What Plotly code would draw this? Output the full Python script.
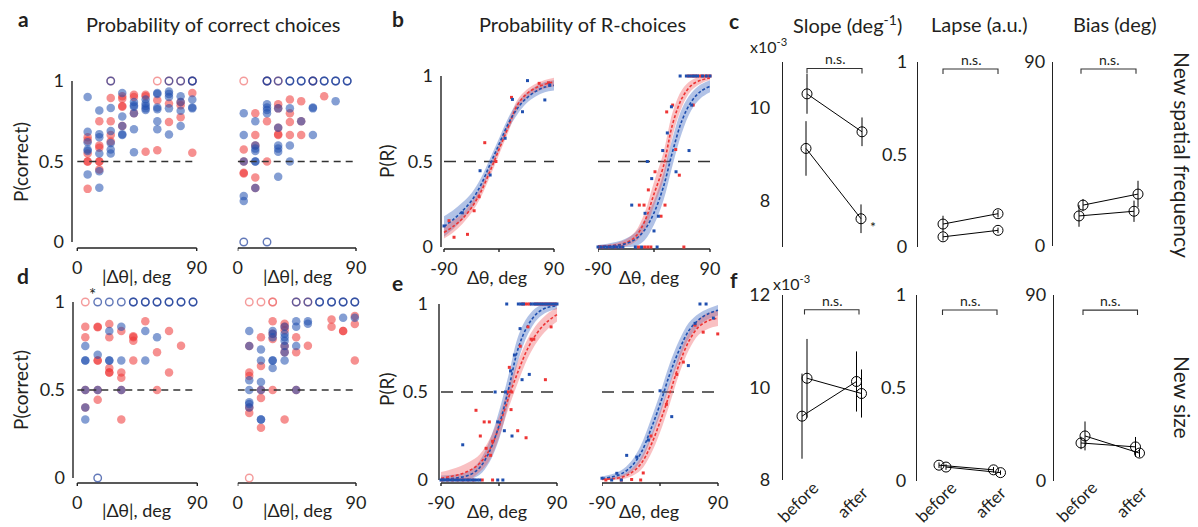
import plotly.graph_objects as go

W, H = 1198, 527
FONT = "Lato"
TXT = "#231f20"
AX = "#222222"
RED = "#EE3535"
BLUE = "#1F4FAF"
RED_OPEN = "#F07070"
BLUE_OPEN = "#1F3F9A"

# ---------------- panel a / d : P(correct) per |dtheta| bin ----------------
a_left_x = [7.8, 16.6, 25.2, 33.9, 42.7, 51.5, 60.3, 69.1, 77.9, 86.7]
a_left_red = [
    [0.65, 0.63, 0.55, 0.5, 0.5, 0.33],
    [0.75, 0.6, 0.585, 0.5, 0.5, 0.45],
    [1.0, 0.895, 0.75, 0.665, 0.625],
    [0.905, 0.89, 0.845, 0.84, 0.72],
    [0.915, 0.9, 0.8],
    [0.915, 0.905, 0.56],
    [1.0, 0.88, 0.57],
    [1.0, 0.86, 0.745],
    [1.0, 0.87, 0.85, 0.775],
    [1.0, 0.925, 0.555],
]
a_left_blue = [
    [0.9, 0.685, 0.62, 0.575, 0.565, 0.42],
    [0.817, 0.67, 0.65, 0.55, 0.44, 0.337],
    [1.0, 0.833, 0.69, 0.615, 0.575, 0.55],
    [0.925, 0.78, 0.72, 0.67, 0.665],
    [0.87, 0.85, 0.84, 0.8, 0.70, 0.557],
    [0.885, 0.86, 0.845, 0.83, 0.82],
    [0.925, 0.92, 0.835, 0.825, 0.75, 0.70],
    [1.0, 0.935, 0.92, 0.9, 0.83, 0.668],
    [1.0, 0.905, 0.87, 0.815, 0.72],
    [1.0, 1.0, 0.885, 0.835, 0.83],
]
a_right_x = [4.6, 13.4, 22.3, 30.8, 39.7, 48.3, 57.2, 65.8, 74.5, 83.3]
a_right_red = [
    [1.0, 0.575, 0.5, 0.43, 0.425],
    [0.8, 0.665, 0.6, 0.4, 0.335],
    [1.0, 0.75, 0.5],
    [1.0, 0.855, 0.83, 0.71, 0.67, 0.665],
    [0.885, 0.8, 0.745, 0.665],
    [0.875, 0.75, 0.665],
    [1.0],
    [0.905],
    [],
    [],
]
a_right_blue = [
    [0.8, 0.665, 0.5, 0.285, 0.255, 0.0],
    [0.75, 0.6, 0.58, 0.565, 0.5, 0.5, 0.335],
    [1.0, 1.0, 0.855, 0.835, 0.82, 0.8, 0.0],
    [1.0, 0.83, 0.71, 0.6, 0.58, 0.56, 0.405],
    [1.0, 1.0, 0.83, 0.6, 0.5],
    [1.0, 1.0, 0.75],
    [1.0, 1.0, 0.835, 0.83, 0.665],
    [1.0, 1.0],
    [1.0, 1.0, 0.875],
    [1.0, 1.0],
]
d_left_x = [6.0, 15.3, 24.0, 33.0, 42.0, 51.0, 59.8, 68.8, 77.8, 86.8]
d_left_red = [
    [1.0, 0.86, 0.80, 0.5, 0.4],
    [0.86, 0.857, 0.667, 0.667, 0.5, 0.444],
    [0.875, 0.8, 0.625, 0.6, 0.6],
    [0.835, 0.6, 0.57, 0.5, 0.333],
    [0.805, 0.8, 0.78, 0.667],
    [0.89],
    [0.715, 0.5],
    [0.835, 0.6],
    [0.752],
    [],
]
d_left_blue = [
    [0.75, 0.667, 0.667, 0.5, 0.4, 0.333],
    [1.0, 0.70, 0.5, 0.0],
    [1.0, 0.835, 0.667, 0.667],
    [1.0, 0.86, 0.667, 0.5],
    [1.0, 1.0],
    [1.0, 1.0, 0.835, 0.667],
    [1.0, 1.0, 0.8],
    [1.0, 1.0],
    [1.0, 1.0],
    [1.0, 1.0],
]
d_right_x = [8.8, 17.7, 26.6, 35.7, 44.5, 53.4, 62.3, 71.4, 80.2, 89.1]
d_right_red = [
    [1.0, 0.75, 0.6, 0.58, 0.4, 0.37, 0.0],
    [1.0, 0.8, 0.636, 0.5, 0.455, 0.286],
    [1.0, 1.0, 0.89, 0.82, 0.79, 0.5],
    [0.877, 0.86, 0.84, 0.75, 0.715, 0.333],
    [1.0, 0.8, 0.715, 0.5],
    [1.0, 0.752],
    [],
    [0.9, 0.86],
    [0.835, 0.835],
    [0.92, 0.875, 0.667],
]
d_right_blue = [
    [0.835, 0.75, 0.555, 0.5, 0.43, 0.42, 0.4],
    [0.73, 0.667, 0.545, 0.5, 0.333, 0.333],
    [0.835, 0.82, 0.8, 0.667, 0.667, 0.625],
    [0.86, 0.82, 0.80, 0.78, 0.75, 0.715, 0.667],
    [1.0, 0.89, 0.86, 0.75, 0.5],
    [1.0, 0.89, 0.877],
    [1.0, 1.0],
    [1.0, 1.0],
    [1.0, 1.0, 0.91],
    [1.0, 1.0, 0.91],
]

# ---------------- panel b / e : psychometric fits ----------------
psy_x = [-90, -75, -60, -45, -30, -15, 0, 15, 30, 45, 60, 75, 90]
b_left_blue = [0.12, 0.16, 0.21, 0.27, 0.36, 0.48, 0.60, 0.72, 0.81, 0.87, 0.91, 0.935, 0.945]
b_left_red = [0.085, 0.12, 0.165, 0.23, 0.32, 0.44, 0.57, 0.70, 0.83, 0.895, 0.93, 0.952, 0.965]
b_left_blue_hw = [0.06, 0.055, 0.05, 0.045, 0.04, 0.035, 0.035, 0.035, 0.035, 0.03, 0.03, 0.03, 0.03]
b_left_red_hw = [0.035, 0.035, 0.03, 0.03, 0.03, 0.03, 0.03, 0.03, 0.03, 0.025, 0.025, 0.025, 0.025]
b_right_blue = [0.002, 0.004, 0.01, 0.02, 0.045, 0.10, 0.20, 0.35, 0.56, 0.74, 0.85, 0.91, 0.94]
b_right_red = [0.003, 0.006, 0.012, 0.025, 0.06, 0.15, 0.31, 0.47, 0.72, 0.87, 0.945, 0.975, 0.988]
b_right_blue_hw = [0.01, 0.015, 0.02, 0.03, 0.04, 0.06, 0.07, 0.08, 0.08, 0.07, 0.05, 0.04, 0.035]
b_right_red_hw = [0.005, 0.008, 0.012, 0.02, 0.03, 0.05, 0.07, 0.08, 0.07, 0.05, 0.03, 0.02, 0.012]
e_left_blue = [0.005, 0.008, 0.015, 0.03, 0.07, 0.16, 0.31, 0.52, 0.75, 0.88, 0.95, 0.98, 0.99]
e_left_red = [0.01, 0.02, 0.033, 0.055, 0.095, 0.17, 0.30, 0.47, 0.62, 0.75, 0.84, 0.9, 0.94]
e_left_blue_hw = [0.02, 0.02, 0.02, 0.025, 0.04, 0.06, 0.08, 0.08, 0.07, 0.05, 0.035, 0.025, 0.02]
e_left_red_hw = [0.035, 0.04, 0.045, 0.05, 0.05, 0.06, 0.06, 0.06, 0.06, 0.055, 0.05, 0.045, 0.04]
e_right_blue = [0.01, 0.017, 0.035, 0.075, 0.15, 0.28, 0.43, 0.6, 0.74, 0.85, 0.91, 0.945, 0.965]
e_right_red = [0.003, 0.007, 0.015, 0.04, 0.09, 0.19, 0.33, 0.49, 0.66, 0.79, 0.87, 0.905, 0.92]
e_right_blue_hw = [0.01, 0.015, 0.02, 0.03, 0.045, 0.055, 0.06, 0.06, 0.055, 0.045, 0.035, 0.03, 0.03]
e_right_red_hw = [0.005, 0.008, 0.012, 0.02, 0.035, 0.05, 0.06, 0.06, 0.055, 0.05, 0.045, 0.045, 0.045]

# raw choice proportions (small dots)
b_left_dots_blue_x = [-90, -60, -31, -14.5, 10, 22, 38.4, 46.6, 75, 83]
b_left_dots_blue_y = [0.123, 0.2, 0.446, 0.421, 0.636, 0.863, 0.791, 0.973, 0.86, 0.947]
b_left_dots_red_x = [-81.8, -73.6, -51.6, -40.7, -32.5, -23.3, -5, 20.4, 65.7, 81]
b_left_dots_red_y = [0.154, 0.057, 0.074, 0.212, 0.294, 0.61, 0.5, 0.875, 0.957, 0.96]
b_right_dots_blue_x = [-90, -85, -80, -75, -70, -65, -60, -55, -50, -30, -20, 5,
                       42, 52, 57, 62, 66, 70, 78, 84, 90,
                       -35.8, -14.4, -3.7, -10.7, 7, 0, 14, 21.4, 35.4, 56.3, 60.6, 28]
b_right_dots_blue_y = [0, 0, 0, 0, 0, 0, 0, 0, 0, 0, 0, 0,
                       1, 1, 1, 1, 1, 1, 1, 1, 1,
                       0.245, 0.197, 0.40, 0.5, 0.18, 0.094, 0.564, 0.667, 0.44, 0.564, 0.83, 0.82]
b_right_dots_red_x = [-88, -82, -72, -62, -52, -25, -15, -10, -5, 48,
                      55, 60, 64, 68, 73, 77, 82, 86, 90,
                      -23.6, -16, -9.1, 1.6, 11.3, 17.7, 20.4, 30, 34.9, 40.7, 63]
b_right_dots_red_y = [0, 0, 0, 0, 0, 0, 0, 0, 0, 0,
                      1, 1, 1, 1, 1, 1, 1, 1, 1,
                      0.245, 0.245, 0.334, 0.44, 0.18, 0.245, 0.79, 0.83, 0.57, 0.42, 0.83]
e_left_dots_blue_x = [12, 30, 34, 38, 50, 54, 58, 62, 66, 70, 74, 78, 82, 86, 90,
                      -90, -86, -82, -78, -74, -70, -66, -62, -58, -54, -50, -46, -42, -38, -34, -30, -2, 6,
                      -56.3, -2, 8.3, 20.2, 10, 35.8, 47, 23.9, 32.7, 18, -6]
e_left_dots_blue_y = [1] * 15 + [0] * 18 + [0.2, 0.33, 0.28, 0.25, 0.5, 0.57, 0.6, 0.71, 0.86, 0.62, 0.5]
e_left_dots_red_x = [36, 40, 44, 48, 56, 60, 64, 68, 72, 76, 80, 84, 88,
                     -88, -80, -72, -64, -56, -48, -40, -26, -10,
                     -35.7, -15, -29, -20, -10, 29, 42, 14, 20, 18.7, 72, 16, 33, 49.8, 54, 80.8, 45, -23, -13]
e_left_dots_red_y = [1] * 13 + [0] * 9 + [0.396, 0.33, 0.25, 0.18, 0.22, 0.28, 0.24, 0.5, 0.5, 0.4, 0.57,
                                          0.64, 0.76, 0.8, 0.8, 0.87, 0.87, 0.33, 0.14]
e_right_dots_blue_x = [-90, -67, -51.7, -36, -18, 0.06, 18.2, 44, 62, 71.5, 54.4, 82.8, -75, -60]
e_right_dots_blue_y = [0.01, 0.038, 0.14, 0.13, 0.227, 0.507, 0.36, 0.65, 1.0, 1.0, 0.89, 0.92, 0.0, 0.0]
e_right_dots_red_x = [-84, -44, -26, -30, -14, 36.2, 26, 54.4, 67, 89.6, -60, 10]
e_right_dots_red_y = [0.0, 0.003, 0.04, 0.0, 0.25, 0.67, 0.6, 0.88, 0.84, 0.83, 0.0, 0.43]

# ---------------- panel c / f : fitted parameters ----------------
categories = ["before", "after"]
c_slope_A = [10.3, 9.48]
c_slope_A_err = [0.43, 0.31]
c_slope_B = [9.12, 7.6]
c_slope_B_err = [0.59, 0.31]
c_lapse_A = [0.124, 0.18]
c_lapse_A_err = [0.045, 0.02]
c_lapse_B = [0.055, 0.09]
c_lapse_B_err = [0.02, 0.015]
c_bias_A = [20.0, 25.4]
c_bias_A_err = [3.0, 6.5]
c_bias_B = [14.7, 17.0]
c_bias_B_err = [5.3, 5.2]
f_slope_A = [9.38, 10.13]
f_slope_A_err = [0.92, 0.65]
f_slope_B = [10.2, 9.87]
f_slope_B_err = [0.85, 0.52]
f_lapse_A = [0.085, 0.06]
f_lapse_A_err = [0.015, 0.015]
f_lapse_B = [0.075, 0.045]
f_lapse_B_err = [0.015, 0.012]
f_bias_A = [18.4, 16.5]
f_bias_A_err = [3.0, 4.8]
f_bias_B = [21.8, 13.5]
f_bias_B_err = [7.0, 2.0]

# ---------------- figure scaffolding ----------------
fig = go.Figure()
layout = dict(template="none", width=W, height=H,
              margin=dict(l=0, r=0, t=0, b=0, pad=0, autoexpand=False), autosize=False,
              paper_bgcolor="white", plot_bgcolor="rgba(0,0,0,0)", showlegend=False,
              font=dict(family=FONT, size=18, color=TXT))
annotations = []
shapes = []
_axis_count = [0]
TICKFONT = dict(family=FONT, size=18, color=TXT)
TICK_LEN = 3


def px2fx(p):
    return p / W


def px2fy(p):
    return 1 - p / H


def add_axes(xpx, ypx, xrange, yrange, ytickvals=None, yticktext=None, ystand=8,
             yline_px=None, xline_px=None, xtickvals=None, xticktext=None, xminor=(), xstand=3):
    """xpx/ypx: pixel extents of the data range; optional axis-line pixel positions."""
    _axis_count[0] += 1
    n = "" if _axis_count[0] == 1 else str(_axis_count[0])
    xr, yr = list(xrange), list(yrange)
    x_left, x_right, y_bottom = xpx[0], xpx[1], ypx[1]
    ypp = (yrange[1] - yrange[0]) / (ypx[1] - ypx[0])   # data units per pixel (y)
    xpp = (xrange[1] - xrange[0]) / (xpx[1] - xpx[0])   # data units per pixel (x)
    y_line_trace = yline_px is not None and yline_px < xpx[0]
    if xline_px is not None:
        y_bottom = xline_px + TICK_LEN + 1
        yr[0] = yrange[0] - (y_bottom - ypx[1]) * ypp
        x_right = xpx[1] + 2
        xr[1] = xrange[1] + 2 * xpp
    if y_line_trace:
        x_left = yline_px - 2
        xr[0] = xrange[0] - (xpx[0] - x_left) * xpp
    xa = dict(domain=[px2fx(x_left), px2fx(x_right)], range=xr, showgrid=False,
              zeroline=False, fixedrange=True, anchor="y" + n, automargin=False,
              showline=False, ticks="")
    ya = dict(domain=[px2fy(y_bottom), px2fy(ypx[0])], range=yr, showgrid=False,
              zeroline=False, fixedrange=True, anchor="x" + n, automargin=False)
    lx, ly = [], []
    if xline_px is None:
        xa.update(showticklabels=False)
    else:
        xa.update(tickvals=xtickvals, ticktext=xticktext, tickfont=TICKFONT,
                  ticklabelstandoff=xstand)
        y_line = yrange[0] - (xline_px - ypx[1]) * ypp
        y_tick = y_line - TICK_LEN * ypp
        lx += [xrange[0], xrange[1], None]
        ly += [y_line, y_line, None]
        for t in list(xtickvals) + list(xminor):
            lx += [t, t, None]
            ly += [y_line, y_tick, None]
    if y_line_trace:
        x_line = xrange[0] - (xpx[0] - yline_px) * xpp
        lx += [x_line, x_line, None]
        ly += [yrange[0], yrange[1], None]
    if lx:
        fig.add_trace(go.Scatter(x=lx, y=ly, mode="lines", xaxis="x" + n, yaxis="y" + n,
                                 line=dict(color=AX, width=1.4), hoverinfo="skip"))
    if ytickvals is None:
        ya.update(showline=False, ticks="", showticklabels=False)
    else:
        ya.update(showline=(yline_px is not None and not y_line_trace), linecolor=AX,
                  linewidth=1.4, ticks="", tickvals=ytickvals, ticktext=yticktext,
                  tickfont=TICKFONT, ticklabelstandoff=ystand)
    layout["xaxis" + n] = xa
    layout["yaxis" + n] = ya
    return "x" + n, "y" + n


def text(x, y, s, size=18, bold=False, angle=0, xanchor="center", yanchor="middle"):
    annotations.append(dict(x=px2fx(x), y=px2fy(y), xref="paper", yref="paper", text=s,
                            showarrow=False, textangle=angle, xanchor=xanchor, yanchor=yanchor,
                            font=dict(family=FONT, size=size, color=TXT,
                                      weight="bold" if bold else "normal")))


def dot_panel(xa, ya, cols, red, blue):
    for vals, col, ocol in ((red, RED, RED_OPEN), (blue, BLUE, BLUE_OPEN)):
        fx_, fy_, ox, oy = [], [], [], []
        for cx, vs in zip(cols, vals):
            for v in vs:
                if v in (0.0, 1.0):
                    ox.append(cx); oy.append(v)
                else:
                    fx_.append(cx); fy_.append(v)
        fig.add_trace(go.Scatter(x=fx_, y=fy_, mode="markers", xaxis=xa, yaxis=ya, cliponaxis=False,
                                 marker=dict(size=8.5, color=col, opacity=0.55, line=dict(width=0))))
        fig.add_trace(go.Scatter(x=ox, y=oy, mode="markers", xaxis=xa, yaxis=ya, cliponaxis=False,
                                 marker=dict(size=7.5, symbol="circle-open", color=ocol, opacity=0.7,
                                             line=dict(width=1.4))))
    fig.add_trace(go.Scatter(x=[0, 88], y=[0.5, 0.5], mode="lines", xaxis=xa, yaxis=ya,
                             line=dict(color="#333333", width=1.3, dash="7px,5px")))


def psy_panel(xa, ya, blue, blue_hw, red, red_hw, dbx, dby, drx, dry):
    fig.add_trace(go.Scatter(x=psy_x, y=[0.5] * len(psy_x), mode="lines", xaxis=xa, yaxis=ya,
                             line=dict(color="#333333", width=1.3, dash="12px,8px")))
    for m, hw, fc in ((blue, blue_hw, "rgba(70,110,195,0.42)"), (red, red_hw, "rgba(240,90,95,0.38)")):
        up = [min(v + h, 1.0) for v, h in zip(m, hw)]
        lo = [max(v - h, 0.0) for v, h in zip(m, hw)]
        fig.add_trace(go.Scatter(x=psy_x, y=up, mode="lines", xaxis=xa, yaxis=ya,
                                 line=dict(width=0, shape="spline"), hoverinfo="skip"))
        fig.add_trace(go.Scatter(x=psy_x, y=lo, mode="lines", xaxis=xa, yaxis=ya, fill="tonexty",
                                 fillcolor=fc, line=dict(width=0, shape="spline"), hoverinfo="skip"))
    for m, col in ((red, RED), (blue, BLUE)):
        fig.add_trace(go.Scatter(x=psy_x, y=m, mode="lines", xaxis=xa, yaxis=ya,
                                 line=dict(color=col, width=1.6, dash="3px,2px", shape="spline")))
    fig.add_trace(go.Scatter(x=drx, y=dry, mode="markers", xaxis=xa, yaxis=ya, cliponaxis=False,
                             marker=dict(size=3, symbol="square", color=RED, line=dict(width=0))))
    fig.add_trace(go.Scatter(x=dbx, y=dby, mode="markers", xaxis=xa, yaxis=ya, cliponaxis=False,
                             marker=dict(size=3, symbol="square", color=BLUE, line=dict(width=0))))


def param_panel(line_px, before_px, after_px, ypx, yrange, tickvals, ticktext, stand,
                A, A_err, B, B_err, offA_px, offB_px, bracket_y, bracket_tick, show_cats):
    step = after_px - before_px
    right_px = after_px + 26
    xr = [1 - (before_px - line_px) / step, 2 + (right_px - after_px) / step]
    xa, ya = add_axes([line_px, right_px], ypx, xr, yrange, ytickvals=tickvals,
                      yticktext=ticktext, ystand=stand, yline_px=line_px)
    pos = [i + 1 for i in range(len(categories))]
    for vals, err, off in ((A, A_err, offA_px), (B, B_err, offB_px)):
        fig.add_trace(go.Scatter(x=[p + off / step for p in pos], y=vals, xaxis=xa, yaxis=ya,
                                 mode="lines+markers", cliponaxis=False,
                                 line=dict(color="black", width=1),
                                 marker=dict(symbol="circle-open", size=10, color="black",
                                             line=dict(width=1)),
                                 error_y=dict(type="data", array=err, color="black",
                                              thickness=1, width=0)))
    shapes.append(dict(type="path", xref=xa, yref=ya,
                       path=f"M {pos[0]},{bracket_y - bracket_tick} L {pos[0]},{bracket_y} "
                            f"L {pos[1]},{bracket_y} L {pos[1]},{bracket_y - bracket_tick}",
                       line=dict(color="#333333", width=1.1)))
    annotations.append(dict(x=1.5, y=bracket_y, xref=xa, yref=ya, text="n.s.", showarrow=False,
                            xanchor="center", yanchor="bottom", yshift=-1,
                            font=dict(family=FONT, size=14, color=TXT)))
    if show_cats:
        for p, cat in zip(pos, categories):
            annotations.append(dict(x=p - 0.12, y=px2fy(501), xref=xa, yref="paper", text=cat,
                                    showarrow=False, textangle=-45, xanchor="center",
                                    yanchor="middle", font=dict(family=FONT, size=17, color=TXT)))
    return xa, ya


# ---------------- panel a ----------------
xa, ya = add_axes([77.3, 196.7], [81, 242], [0, 90], [0, 1], ytickvals=[0, 0.5, 1],
                  yticktext=["0", "0.5", "1"], ystand=5, yline_px=72, xline_px=248,
                  xtickvals=[0, 90], xticktext=["0", "90"])
dot_panel(xa, ya, a_left_x, a_left_red, a_left_blue)
xa, ya = add_axes([237.7, 356], [81, 242], [0, 90], [0, 1], xline_px=248,
                  xtickvals=[0, 90], xticktext=["0", "90"])
dot_panel(xa, ya, a_right_x, a_right_red, a_right_blue)

# ---------------- panel d ----------------
xa, ya = add_axes([77.3, 197.3], [302, 478], [0, 90], [0, 1], ytickvals=[0, 0.5, 1],
                  yticktext=["0", "0.5", "1"], ystand=5, yline_px=73, xline_px=483,
                  xtickvals=[0, 90], xticktext=["0", "90"])
dot_panel(xa, ya, d_left_x, d_left_red, d_left_blue)
xa, ya = add_axes([237.7, 356], [302, 478], [0, 90], [0, 1], xline_px=483,
                  xtickvals=[0, 90], xticktext=["0", "90"])
dot_panel(xa, ya, d_right_x, d_right_red, d_right_blue)

# ---------------- panel b ----------------
xa, ya = add_axes([444, 554], [76, 247], [-90, 90], [0, 1], ytickvals=[0, 0.5, 1],
                  yticktext=["0", "0.5", "1"], ystand=5, yline_px=441, xline_px=249,
                  xtickvals=[-90, 90], xticktext=["-90", "90"], xminor=[0])
psy_panel(xa, ya, b_left_blue, b_left_blue_hw, b_left_red, b_left_red_hw,
          b_left_dots_blue_x, b_left_dots_blue_y, b_left_dots_red_x, b_left_dots_red_y)
xa, ya = add_axes([598, 710], [76, 247], [-90, 90], [0, 1], xline_px=249,
                  xtickvals=[-90, 90], xticktext=["-90", "90"], xminor=[0])
psy_panel(xa, ya, b_right_blue, b_right_blue_hw, b_right_red, b_right_red_hw,
          b_right_dots_blue_x, b_right_dots_blue_y, b_right_dots_red_x, b_right_dots_red_y)

# ---------------- panel e ----------------
xa, ya = add_axes([441, 557], [304, 480], [-90, 90], [0, 1], ytickvals=[0, 0.5, 1],
                  yticktext=["0", "0.5", "1"], ystand=8, yline_px=439, xline_px=483,
                  xtickvals=[-90, 90], xticktext=["-90", "90"], xminor=[0])
psy_panel(xa, ya, e_left_blue, e_left_blue_hw, e_left_red, e_left_red_hw,
          e_left_dots_blue_x, e_left_dots_blue_y, e_left_dots_red_x, e_left_dots_red_y)
xa, ya = add_axes([602, 718], [304, 480], [-90, 90], [0, 1], xline_px=483,
                  xtickvals=[-90, 90], xticktext=["-90", "90"], xminor=[0])
psy_panel(xa, ya, e_right_blue, e_right_blue_hw, e_right_red, e_right_red_hw,
          e_right_dots_blue_x, e_right_dots_blue_y, e_right_dots_red_x, e_right_dots_red_y)

# ---------------- panel c ----------------
param_panel(783, 807, 862, [61.5, 246.5], [7, 11], [8, 10], ["8", "10"], 8,
            c_slope_A, c_slope_A_err, c_slope_B, c_slope_B_err, 0, -1, 10.85, 0.11, False)
param_panel(918, 943, 998, [62, 247], [0, 1], [0, 0.5, 1], ["0", "0.5", "1"], 6,
            c_lapse_A, c_lapse_A_err, c_lapse_B, c_lapse_B_err, 0, 0, 0.962, 0.027, False)
param_panel(1053, 1081, 1136, [62, 246], [0, 90], [0, 90], ["0", "90"], 3,
            c_bias_A, c_bias_A_err, c_bias_B, c_bias_B_err, 2, -2, 86.6, 2.4, False)

# ---------------- panel f ----------------
param_panel(783, 804.5, 859, [295, 480], [8, 12], [8, 10, 12], ["8", "10", "12"], 8,
            f_slope_A, f_slope_A_err, f_slope_B, f_slope_B_err, -2.5, 2.5, 11.68, 0.1, True)
param_panel(917, 942.5, 997, [295, 481], [0, 1], [0, 0.5, 1], ["0", "0.5", "1"], 6,
            f_lapse_A, f_lapse_A_err, f_lapse_B, f_lapse_B_err, -3.5, 3.5, 0.919, 0.027, True)
param_panel(1054, 1083, 1137.5, [295, 481], [0, 90], [0, 90], ["0", "90"], 3,
            f_bias_A, f_bias_A_err, f_bias_B, f_bias_B_err, -2, 2, 82.7, 2.4, True)

# ---------------- text ----------------
for lx, ly, s in ((23, 19, "a"), (398, 19, "b"), (734, 21, "c"),
                  (23, 275, "d"), (397, 282, "e"), (734, 279, "f")):
    text(lx, ly, s, size=21, bold=True)
text(213, 24, "Probability of correct choices", size=20)
text(582, 24, "Probability of R-choices", size=20)
text(848, 24, "Slope (deg<sup>-1</sup>)", size=20)
text(980, 24, "Lapse (a.u.)", size=20)
text(1115, 24, "Bias (deg)", size=20)
text(768, 45, "x10<sup>-3</sup>", size=16)
text(791, 282, "x10<sup>-3</sup>", size=16)
text(1183, 155, "New spatial frequency", size=21, angle=90)
text(1183, 397, "New size", size=21, angle=90)
for yy in (162, 390):
    text(20, yy, "P(correct)", size=19, angle=-90)
    text(386, yy, "P(R)", size=19, angle=-90)
for yy in (276, 510):
    text(136, yy, "|Δθ|, deg", size=18)
    text(297, yy, "|Δθ|, deg", size=18)
    text(497, yy + 1, "Δθ, deg", size=18)
    text(649, yy + 1, "Δθ, deg", size=18)
text(92, 294, "*", size=17)
text(873, 227, "*", size=14)

layout["annotations"] = annotations
layout["shapes"] = shapes
fig.update_layout(**layout)
fig.write_html("out.html", post_script="document.body.style.margin='0px';document.body.style.overflow='hidden';")
